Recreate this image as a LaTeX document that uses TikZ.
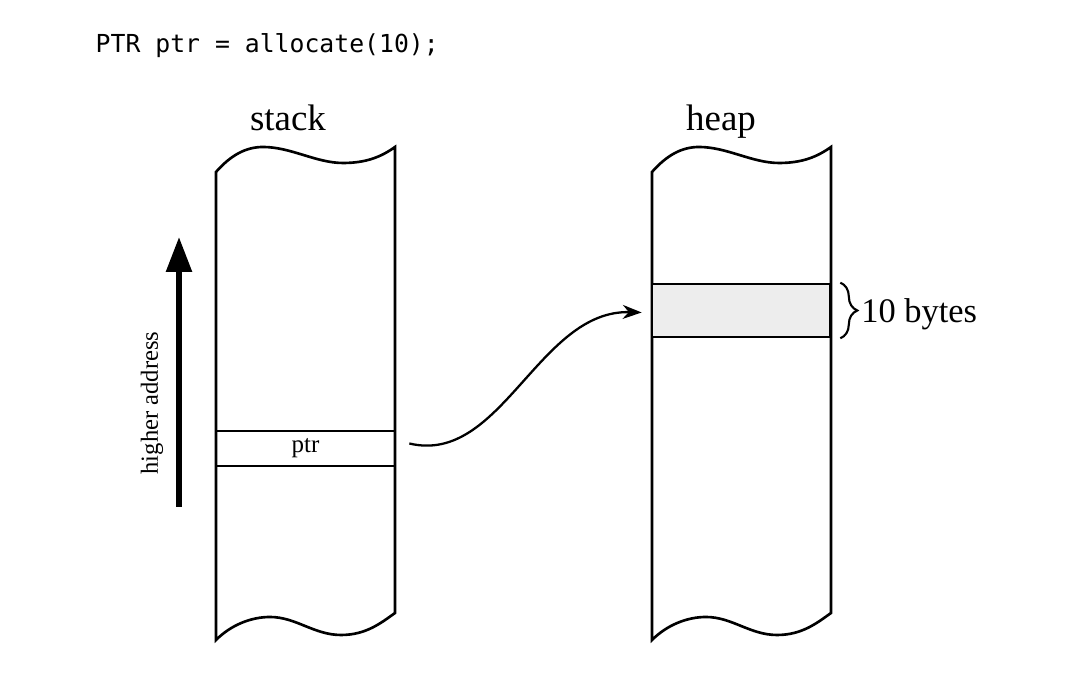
\documentclass[tikz,border=0pt]{standalone}
\usepackage{fontspec}
\setmainfont{Liberation Serif}
\newfontfamily\codefont{DejaVu Sans Mono}
\usetikzlibrary{arrows.meta,decorations.pathreplacing}

\tikzset{
  colline/.style={line width=0.75pt},
  memcol/.pic={
    \draw[colline] (0,5.13) .. controls (0.15,5.30) and (0.30,5.38) .. (0.47,5.38)
      .. controls (0.75,5.38) and (1.00,5.22) .. (1.27,5.22)
      .. controls (1.50,5.22) and (1.65,5.28) .. (1.79,5.38) -- (1.79,0.72)
      .. controls (1.65,0.62) and (1.50,0.50) .. (1.25,0.50)
      .. controls (0.98,0.50) and (0.80,0.68) .. (0.54,0.68)
      .. controls (0.35,0.68) and (0.15,0.60) .. (0,0.45) -- cycle;
  },
  cell/.style={draw,colline,inner sep=0pt,minimum width=1.79cm},
  title/.style={font=\fontsize{10.5}{12}\selectfont,anchor=base},
}

\begin{document}
\begin{tikzpicture}
\useasboundingbox (0,0) rectangle (10.71,6.85);
\node [anchor=base west,inner sep=0pt,font=\codefont\fontsize{7.05}{8}\selectfont] (code) at (0.95,6.32) {PTR ptr = allocate(10);};
\node [title] (stacklbl) at (2.88,5.54) {stack};
\node [title] (heaplbl) at (7.21,5.54) {heap};
\pic at (2.16,0) {memcol};
\pic at (6.52,0) {memcol};
\node [cell,minimum height=0.35cm,font=\fontsize{7.1}{8}\selectfont] (ptr) at (3.055,2.365) {ptr};
\node [cell,minimum width=1.78cm,minimum height=0.53cm,fill=black!7] (block) at (7.41,3.745) {};
\draw [line width=0.65pt,-{Stealth[length=0.19cm,width=0.14cm]}]
  ([xshift=0.13cm,yshift=0.05cm]ptr.east) .. controls +(0.92,-0.22) and +(-1.03,0.03) .. ([xshift=-0.09cm,yshift=-0.02cm]block.west);
\draw [line width=0.6pt,decorate,decoration={brace,amplitude=0.17cm}]
  ([xshift=0.09cm]block.north east) -- ([xshift=0.09cm]block.south east)
  node [midway,right=0.2cm,yshift=-0.04cm,inner sep=0pt,font=\fontsize{9.8}{11}\selectfont] (bytes) {10 bytes};
\coordinate (lo) at (1.79,1.78);
\coordinate (hi) at (1.79,4.48);
\draw [line width=1.6pt,-{Triangle[length=0.35cm,width=0.25cm]}] (lo) -- (hi);
\node [rotate=90,font=\fontsize{7}{8}\selectfont] (addr) at (1.52,2.82) {higher address};
\end{tikzpicture}
\end{document}
